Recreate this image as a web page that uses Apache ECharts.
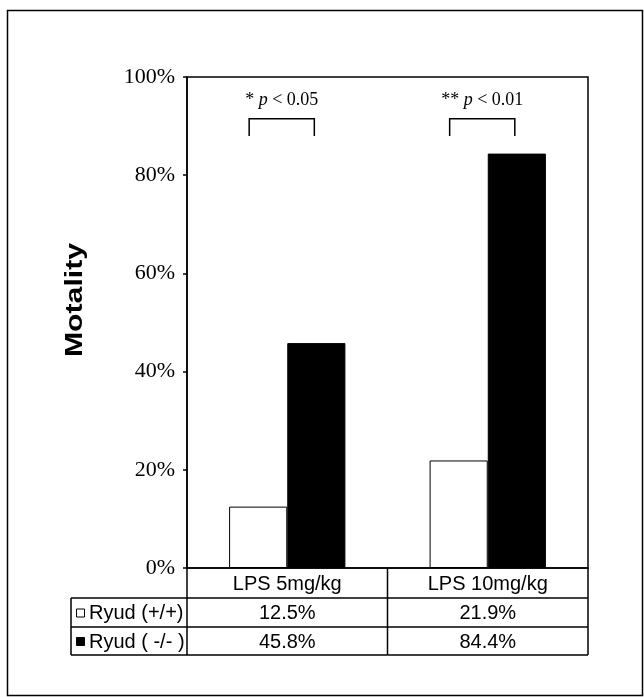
<!DOCTYPE html>
<html>
<head>
<meta charset="utf-8">
<script src="https://cdn.jsdelivr.net/npm/echarts@6/dist/echarts.min.js"></script>
<style>
html,body{margin:0;padding:0;background:#fff;}
#chart{width:644px;height:697px;}
</style>
</head>
<body>
<div id="chart"></div>
<script>
// ---- data ----
const categories = ['LPS 5mg/kg', 'LPS 10mg/kg'];
const seriesNames = ['Ryud (+/+)', 'Ryud ( -/- )'];
const wildType = [12.5, 21.9];
const knockout = [45.8, 84.4];
const yTicks = [0, 20, 40, 60, 80, 100];
const yTitle = 'Motality';
const sigStars = ['*', '**'];
const sigP = ['0.05', '0.01'];
const bracketTop = [91.5, 91.5];
const bracketBottom = [88, 88];
const sigLabelLevel = [95.2, 95.2];

const chart = echarts.init(document.getElementById('chart'));

const SANS = 'Liberation Sans, Arial, sans-serif';
const SERIF = 'Liberation Serif, Times New Roman, serif';

function fmt(v) { return v.toFixed(1) + '%'; }

const option = {
  animation: false,
  backgroundColor: '#fff',
  graphic: [{
    type: 'rect', shape: { x: 7.5, y: 10.5, width: 635, height: 685 },
    style: { fill: 'none', stroke: '#000', lineWidth: 1.5 }, z: 0
  }, {
    type: 'text', x: 75, y: 300, rotation: Math.PI / 2, scaleX: 1.26, scaleY: 1,
    style: { text: yTitle, align: 'center', verticalAlign: 'middle', font: 'bold 24px ' + SANS, fill: '#000' }
  }],
  grid: { left: 187, top: 77, right: 56, bottom: 129, show: true, borderColor: '#000', borderWidth: 1.5, backgroundColor: 'transparent' },
  xAxis: {
    type: 'category', data: categories,
    axisLine: { show: true, lineStyle: { color: '#000', width: 1.5 } },
    axisTick: { show: false }, axisLabel: { show: false }
  },
  yAxis: {
    type: 'value', min: yTicks[0], max: yTicks[yTicks.length - 1], interval: 20,
    axisLine: { show: true, lineStyle: { color: '#000', width: 1.5 } },
    axisTick: { show: true, inside: false, length: 4, lineStyle: { color: '#000', width: 1.5 } },
    axisLabel: { formatter: '{value}%', fontFamily: SERIF, fontSize: 22, color: '#000', margin: 12 },
    splitLine: { show: false }
  },
  series: [
    {
      name: seriesNames[0], type: 'bar', data: wildType, barWidth: '29%', barGap: '0%',
      itemStyle: { color: '#fff', borderColor: '#000', borderWidth: 1 }
    },
    {
      name: seriesNames[1], type: 'bar', data: knockout, barWidth: '29%', barGap: '0%',
      itemStyle: { color: '#000', borderColor: '#000', borderWidth: 1 }
    },
    {
      // significance brackets
      type: 'custom', silent: true, clip: false,
      data: categories.map((c, i) => [i, bracketTop[i], bracketBottom[i], sigLabelLevel[i]]),
      renderItem: function (params, api) {
        const i = api.value(0);
        const band = api.size([1, 0])[0];
        const c = api.coord([i, 0])[0];
        const yT = api.coord([i, api.value(1)])[1];
        const yB = api.coord([i, api.value(2)])[1];
        const yL = api.coord([i, api.value(3)])[1];
        const xl = c - 0.19 * band, xr = c + 0.135 * band;
        return {
          type: 'group', children: [
            { type: 'polyline', shape: { points: [[xl, yB], [xl, yT], [xr, yT], [xr, yB]] },
              style: { stroke: '#000', lineWidth: 1.5, fill: 'none' } },
            { type: 'text', x: (xl + xr) / 2, y: yL,
              style: { text: sigStars[i] + ' {i|p} < ' + sigP[i], align: 'center', verticalAlign: 'middle',
                font: '18px ' + SERIF, fill: '#000',
                rich: { i: { fontStyle: 'italic', fontFamily: SERIF, fontSize: 18 } } } }
          ]
        };
      }
    },
    {
      // data table below the plot
      type: 'custom', silent: true, clip: false,
      data: categories.map((c, i) => [i]),
      renderItem: function (params, api) {
        const i = api.value(0);
        const cs = params.coordSys;
        const band = cs.width / categories.length;
        const x0 = cs.x + i * band, x1 = x0 + band;
        const yb = cs.y + cs.height;
        const r1 = yb + 30, r2 = yb + 59, r3 = yb + 87;
        const line = (a, b, c2, d) => ({ type: 'line', shape: { x1: a, y1: b, x2: c2, y2: d }, style: { stroke: '#000', lineWidth: 1.5 } });
        const txt = (t, x, y, align) => ({ type: 'text', x: x, y: y, style: { text: t, align: align || 'center', verticalAlign: 'middle', font: '20px ' + SANS, fill: '#000' } });
        const ch = [
          line(x1, yb, x1, r3),
          line(x0, r1, x1, r1), line(x0, r2, x1, r2), line(x0, r3, x1, r3),
          txt(categories[i], (x0 + x1) / 2, (yb + r1) / 2 + 1),
          txt(fmt(wildType[i]), (x0 + x1) / 2, (r1 + r2) / 2 + 1),
          txt(fmt(knockout[i]), (x0 + x1) / 2, (r2 + r3) / 2 + 1)
        ];
        if (i === 0) {
          const lx = cs.x - 116;
          ch.push(line(x0, yb, x0, r3));
          ch.push(line(lx, r1, x0, r1), line(lx, r2, x0, r2), line(lx, r3, x0, r3), line(lx, r1, lx, r3));
          ch.push({ type: 'rect', shape: { x: lx + 5.5, y: (r1 + r2) / 2 - 3.5, width: 8, height: 8 }, style: { fill: '#fff', stroke: '#000', lineWidth: 1 } });
          ch.push({ type: 'rect', shape: { x: lx + 5.5, y: (r2 + r3) / 2 - 3.5, width: 8, height: 8 }, style: { fill: '#000', stroke: '#000', lineWidth: 1 } });
          ch.push(txt(seriesNames[0], lx + 18, (r1 + r2) / 2 + 1, 'left'));
          ch.push(txt(seriesNames[1], lx + 18, (r2 + r3) / 2 + 1, 'left'));
        }
        return { type: 'group', children: ch };
      }
    }
  ]
};
chart.setOption(option);
</script>
</body>
</html>
